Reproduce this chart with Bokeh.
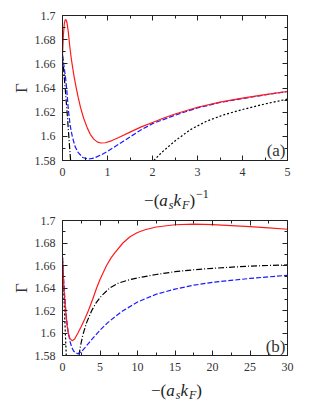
from bokeh.plotting import figure
from bokeh.models import Range1d, FixedTicker, LinearAxis, Label, Div, CustomLabelingPolicy
from bokeh.layouts import column
from bokeh.embed import file_html
from bokeh.resources import INLINE

FONT = "Liberation Serif"

# ---------------- data ----------------
y_ticks = [1.58, 1.60, 1.62, 1.64, 1.66, 1.68, 1.70]
y_tick_labels = ["1.58", "1.6", "1.62", "1.64", "1.66", "1.68", "1.7"]
y_minor = [1.58, 1.59, 1.60, 1.61, 1.62, 1.63, 1.64, 1.65, 1.66, 1.67, 1.68, 1.69, 1.70]

xa_ticks = [0, 1, 2, 3, 4, 5]
xa_tick_labels = ["0", "1", "2", "3", "4", "5"]
xa_minor = [0, 0.5, 1, 1.5, 2, 2.5, 3, 3.5, 4, 4.5, 5]

xb_ticks = [0, 5, 10, 15, 20, 25, 30]
xb_tick_labels = ["0", "5", "10", "15", "20", "25", "30"]
xb_minor = [0, 2.5, 5, 7.5, 10, 12.5, 15, 17.5, 20, 22.5, 25, 27.5, 30]

# panel (a)
a_red_x = [0, 0.02, 0.04, 0.06, 0.08, 0.1, 0.13, 0.16, 0.2, 0.25, 0.3, 0.35, 0.4, 0.47,
           0.55, 0.62, 0.7, 0.78, 0.85, 0.95, 1.1, 1.25, 1.5, 1.75, 2, 2.25, 2.5, 3, 3.5,
           4, 4.5, 5]
a_red_y = [1.667, 1.684, 1.693, 1.6965, 1.6965, 1.694, 1.686, 1.675, 1.663, 1.651, 1.641,
           1.632, 1.624, 1.615, 1.607, 1.6015, 1.5975, 1.5952, 1.5945, 1.5947, 1.5965,
           1.599, 1.6035, 1.6078, 1.6115, 1.6152, 1.6185, 1.6241, 1.6283, 1.6316, 1.6345,
           1.6371]

a_blue_x = [0, 0.03, 0.07, 0.1, 0.13, 0.17, 0.22, 0.28, 0.35, 0.45, 0.58, 0.7, 0.85, 1.0,
            1.25, 1.5, 1.75, 2, 2.5, 3, 3.5, 4, 4.5, 5]
a_blue_y = [1.667, 1.659, 1.648, 1.636, 1.622, 1.609, 1.5995, 1.5915, 1.5865, 1.5825,
            1.5812, 1.582, 1.5845, 1.5875, 1.5935, 1.5995, 1.6055, 1.6105, 1.6175, 1.6235,
            1.628, 1.6313, 1.6343, 1.6371]

a_dashdot_x = [0, 0.05, 0.1, 0.15, 0.18]
a_dashdot_y = [1.667, 1.644, 1.621, 1.595, 1.58]

a_dash_x = [2.03, 2.2, 2.5, 2.84, 3.2, 3.6, 4.0, 4.5, 5.0]
a_dash_y = [1.58, 1.5865, 1.5962, 1.6055, 1.6125, 1.618, 1.6222, 1.6268, 1.6308]

# panel (b)
b_red_x = [0, 0.1, 0.2, 0.4, 0.6, 0.8, 1.0, 1.27, 1.6, 2.06, 2.5, 3, 3.46, 4, 4.55, 5,
           5.87, 6.5, 7, 8.05, 9, 10, 11, 12.5, 15, 17.5, 20, 22.5, 25, 27.5, 30]
b_red_y = [1.667, 1.652, 1.638, 1.621, 1.607, 1.599, 1.595, 1.5932, 1.5945, 1.600, 1.6058,
           1.6128, 1.620, 1.6295, 1.640, 1.6475, 1.660, 1.667, 1.6715, 1.680, 1.6855,
           1.6893, 1.6918, 1.6942, 1.6962, 1.6968, 1.6964, 1.6955, 1.6945, 1.6934, 1.6922]

b_blue_x = [0, 0.15, 0.3, 0.5, 0.75, 1.0, 1.25, 1.5, 2, 2.5, 3, 4, 5, 6, 7, 8, 10, 12.5,
            15, 17.5, 20, 25, 30]
b_blue_y = [1.667, 1.648, 1.632, 1.615, 1.601, 1.5925, 1.587, 1.5838, 1.5815, 1.5832,
            1.587, 1.595, 1.6025, 1.609, 1.6145, 1.6195, 1.6275, 1.6345, 1.639, 1.6425,
            1.645, 1.6485, 1.6513]

b_dashdot_x = [2.2, 2.4, 2.7, 3.2, 3.9, 4.5, 5.2, 6.3, 7.5, 8.75, 10, 12.5, 15, 17.5, 20,
               25, 30]
b_dashdot_y = [1.58, 1.5885, 1.598, 1.609, 1.620, 1.627, 1.633, 1.640, 1.6445, 1.647,
               1.649, 1.652, 1.6545, 1.6562, 1.6575, 1.6595, 1.6605]

b_dash_x = [0, 0.1, 0.2, 0.3, 0.4, 0.5]
b_dash_y = [1.667, 1.649, 1.631, 1.613, 1.5965, 1.58]

NO_LABELS = "for (const i of indices) { indices.unset(i) }\nreturn indices"


def style_axis(ax, ticks, minor, labels, show_labels):
    ax.ticker = FixedTicker(ticks=ticks, minor_ticks=minor)
    ax.major_label_overrides = dict(zip(ticks, labels))
    ax.major_tick_in = 5
    ax.major_tick_out = 0
    ax.minor_tick_in = 3
    ax.minor_tick_out = 0
    ax.axis_line_color = "#222222"
    ax.major_tick_line_color = "#222222"
    ax.minor_tick_line_color = "#222222"
    ax.major_label_text_font = FONT
    ax.major_label_text_color = "#333333"
    ax.major_label_text_font_size = "12px"
    if show_labels:
        ax.major_label_standoff = 7
    else:
        ax.major_label_standoff = 0
        ax.major_label_policy = CustomLabelingPolicy(code=NO_LABELS)


def make_panel(xr, xt, xminor, xlabels, height, top, bottom):
    p = figure(width=311, height=height, output_backend="svg", toolbar_location=None,
               x_range=Range1d(xr[0], xr[1]), y_range=Range1d(1.58, 1.70),
               min_border_left=62, min_border_right=20, min_border_top=top,
               min_border_bottom=bottom)
    p.grid.visible = False
    p.outline_line_color = None
    p.background_fill_color = "white"
    p.border_fill_color = "white"
    style_axis(p.xaxis[0], xt, xminor, xlabels, True)
    style_axis(p.yaxis[0], y_ticks, y_minor, y_tick_labels, True)
    p.yaxis.axis_label = "Γ"
    p.yaxis.axis_label_text_font = FONT
    p.yaxis.axis_label_text_font_style = "normal"
    p.yaxis.axis_label_text_font_size = "17px"
    p.yaxis.axis_label_text_color = "#333333"
    p.yaxis.axis_label_standoff = 1
    ax_top = LinearAxis()
    style_axis(ax_top, xt, xminor, xlabels, False)
    p.add_layout(ax_top, "above")
    ax_r = LinearAxis()
    style_axis(ax_r, y_ticks, y_minor, y_tick_labels, False)
    p.add_layout(ax_r, "right")
    return p


def xlabel_div(html, height, pad, lh):
    inner = ('<div style="margin-left:62px;width:229px;text-align:center;'
             'font-family:\'Liberation Serif\';font-size:17px;line-height:%dpx;'
             'color:#222;white-space:nowrap;padding-top:%dpx">%s</div>'
             % (lh, pad, html))
    return Div(text=inner, width=311, height=height, margin=0)


SUB = ('<span style="position:relative;top:3px;font-size:12px;font-style:italic;'
       'margin-left:1px">%s</span>')
SUP = '<span style="position:relative;top:-8px;font-size:12px;margin-left:1px">%s</span>'

RED = "#ff1a1a"
BLUE = "#1a1aff"
LW = 1.2
SHORT_DASH = "2 2"

# ---------- panel (a) ----------
pa = make_panel((0, 5), xa_ticks, xa_minor, xa_tick_labels, 184, 15, 24)
pa.line(a_dash_x, a_dash_y, color="black", line_width=LW, line_dash=SHORT_DASH)
pa.line(a_dashdot_x, a_dashdot_y, color="black", line_width=LW, line_dash="6 2 1 2")
pa.line(a_blue_x, a_blue_y, color=BLUE, line_width=LW, line_dash="5 2")
pa.line(a_red_x, a_red_y, color=RED, line_width=LW)
pa.add_layout(Label(x=5, y=1.58, x_offset=-2, y_offset=10, text="(a)", text_font=FONT,
                    text_font_size="17px", text_align="right", text_baseline="alphabetic",
                    text_color="#333333"))
label_a = ("\u2212(<i>a</i>" + SUB % "s" + "<i>k</i>" + SUB % "F" + ")"
           + SUP % "\u22121")
div_a = xlabel_div(label_a, 25, 8, 17)

# ---------- panel (b) ----------
pb = make_panel((0, 30), xb_ticks, xb_minor, xb_tick_labels, 168, 3, 22)
pb.line(b_dash_x, b_dash_y, color="black", line_width=LW, line_dash=SHORT_DASH)
pb.line(b_dashdot_x, b_dashdot_y, color="black", line_width=LW, line_dash="6 2 1 2")
pb.line(b_blue_x, b_blue_y, color=BLUE, line_width=LW, line_dash="5 2")
pb.line(b_red_x, b_red_y, color=RED, line_width=LW)
pb.add_layout(Label(x=30, y=1.58, x_offset=-2, y_offset=9, text="(b)", text_font=FONT,
                    text_font_size="17px", text_align="right", text_baseline="alphabetic",
                    text_color="#333333"))
label_b = "\u2212(<i>a</i>" + SUB % "s" + "<i>k</i>" + SUB % "F" + ")"
div_b = xlabel_div(label_b, 21, 7, 14)

layout = column(pa, div_a, pb, div_b)
open("out.html", "w").write(file_html(layout, INLINE))
